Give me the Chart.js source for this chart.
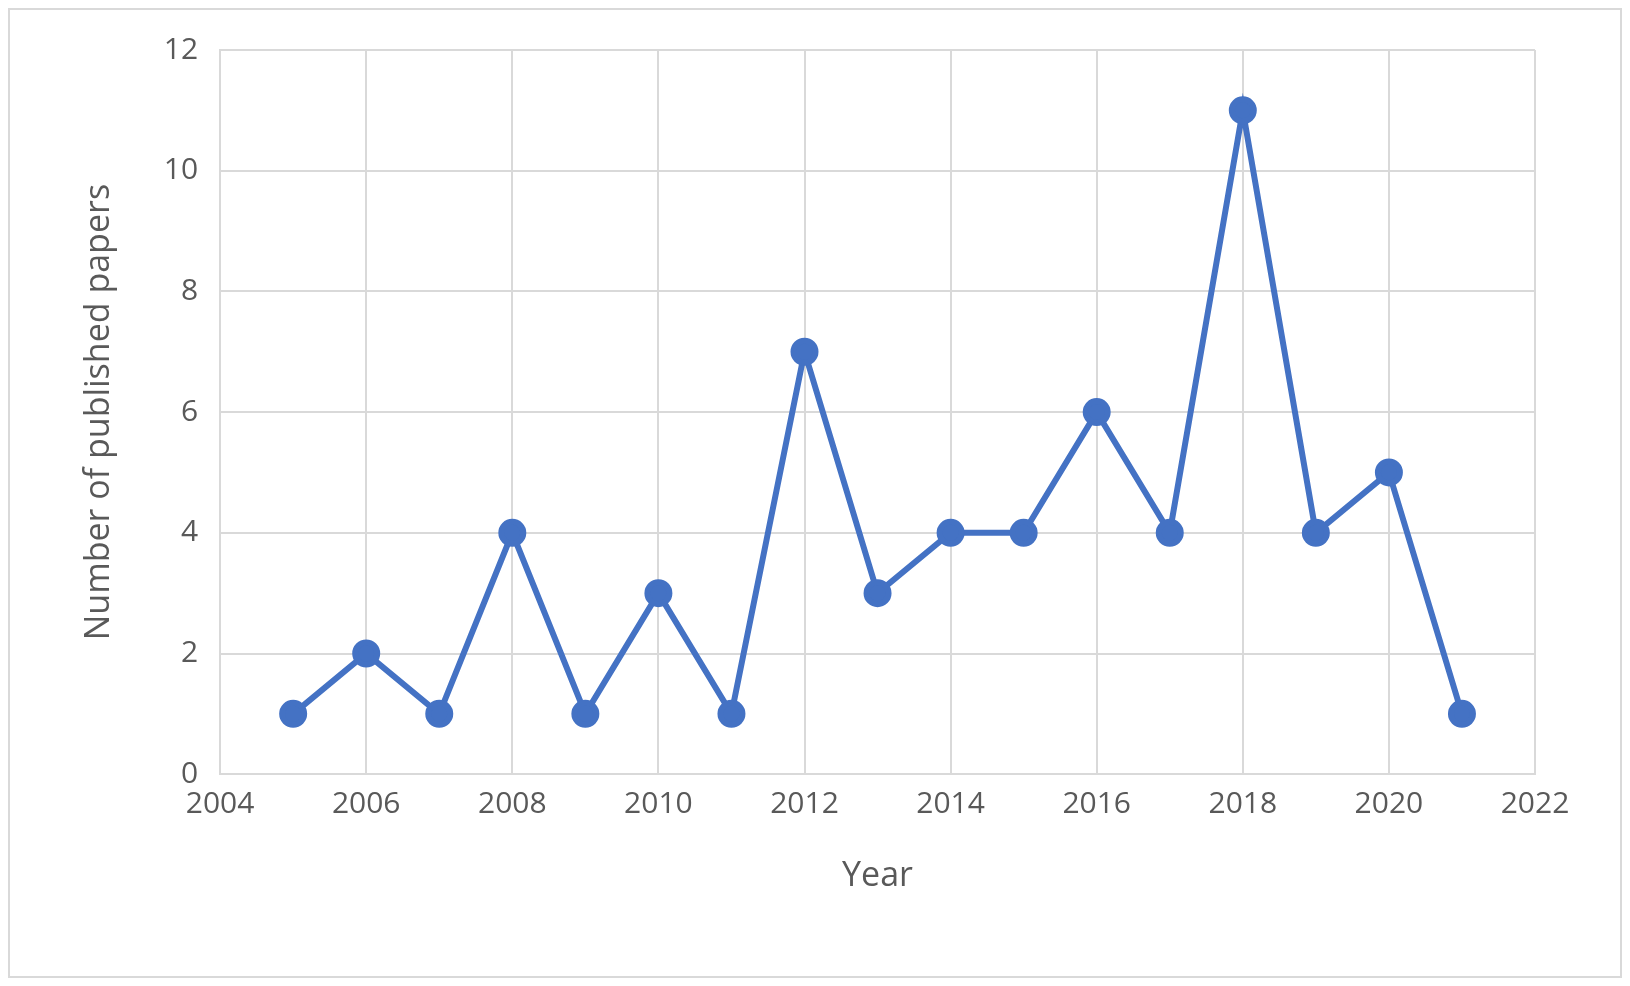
<!DOCTYPE html>
<html>
<head>
<meta charset="utf-8">
<script src="https://cdn.jsdelivr.net/npm/chart.js@4"></script>
<style>
body { margin: 0; background: #fff; }
#box { position: absolute; left: 8px; top: 8px; width: 1610px; height: 966px; border: 2px solid #d9d9d9; }
</style>
</head>
<body>
<div id="box"><canvas id="chart"></canvas></div>
<script>
const years = [2005, 2006, 2007, 2008, 2009, 2010, 2011, 2012, 2013, 2014, 2015, 2016, 2017, 2018, 2019, 2020, 2021];
const papers = [1, 2, 1, 4, 1, 3, 1, 7, 3, 4, 4, 6, 4, 11, 4, 5, 1];

const grey = '#595959';
const ctx = document.getElementById('chart').getContext('2d');
new Chart(ctx, {
    type: 'line',
    data: {
        datasets: [{
            data: years.map((y, i) => ({ x: y, y: papers[i] })),
            borderColor: '#4472C4',
            backgroundColor: '#4472C4',
            borderWidth: 6,
            pointRadius: 11,
            tension: 0
        }]
    },
    options: {
        responsive: true,
        maintainAspectRatio: false,
        animation: false,
        layout: { padding: { left: 65, right: 85, top: 40, bottom: 75 } },
        plugins: { legend: { display: false }, tooltip: { enabled: false } },
        scales: {
            x: {
                type: 'linear', min: 2004, max: 2022,
                ticks: { stepSize: 2, color: grey, font: { family: 'Open Sans', size: 30 }, callback: v => String(v), padding: 12 },
                grid: { color: '#d9d9d9', lineWidth: 2, drawTicks: false },
                border: { color: '#d9d9d9', width: 2 },
                title: { display: true, text: 'Year', color: grey, font: { family: 'Open Sans', size: 34 }, padding: { top: 22 } }
            },
            y: {
                min: 0, max: 12,
                ticks: { stepSize: 2, color: grey, font: { family: 'Open Sans', size: 30 }, padding: 22 },
                grid: { color: '#d9d9d9', lineWidth: 2, drawTicks: false },
                border: { color: '#d9d9d9', width: 2 },
                title: { display: true, text: 'Number of published papers', color: grey, font: { family: 'Open Sans', size: 34 }, padding: { bottom: 22 } }
            }
        }
    }
});
</script>
</body>
</html>
